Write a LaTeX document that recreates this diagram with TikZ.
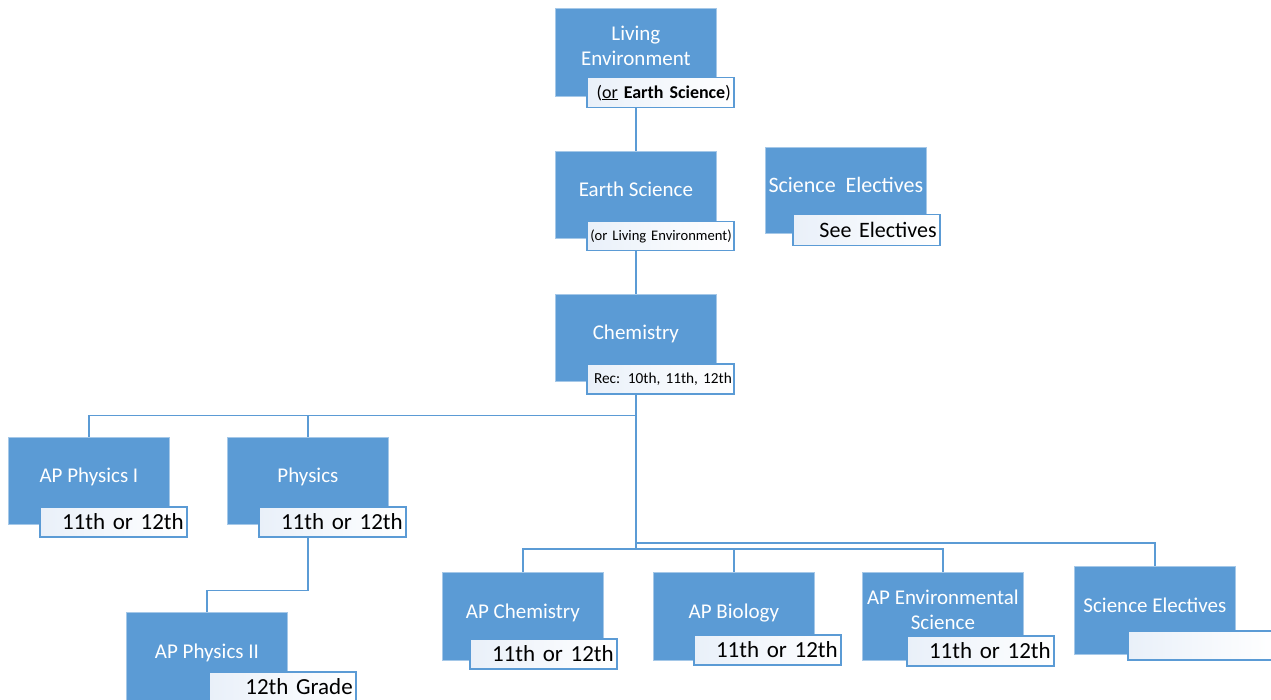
\documentclass[tikz,border=0pt]{standalone}
\usepackage{fontspec}
\setmainfont{Carlito}
\usepackage{tikz}

\definecolor{boxblue}{HTML}{5B9BD5}
\definecolor{tagblue}{HTML}{E9F0F9}

\begin{document}
\begin{tikzpicture}[
						x=1pt, y=-1pt,
						course/.style={draw=boxblue!55!white, line width=0.8pt, fill=boxblue, text=white,
								minimum width=161pt, minimum height=88pt, inner sep=2pt, align=center,
								text height=14pt, text depth=10.6pt,
								anchor=north west, font=\fontsize{21}{25}\selectfont},
						twoline/.style={text height=, text depth=14pt},
						grade/.style={draw=boxblue, line width=1.5pt, left color=tagblue, right color=white,
								text=black, text width=141pt, minimum height=30pt, inner xsep=3pt, inner ysep=0pt,
								align=right, anchor=north west, font=\fontsize{23}{26}\selectfont},
						link/.style={draw=boxblue, line width=1.6pt}
				]
    \useasboundingbox (0,0) rectangle (1271,700);

    % course boxes
    \node[course, twoline] (Living) at (555,8) {Living\\Environment};
    \node[course, minimum height=87pt] (Earth) at (555,151) {Earth Science};
    \node[course, minimum height=86pt] (ElectivesTop) at (765,147) {\fontsize{22}{25}\selectfont Science\ \ Electives};
    \node[course, minimum height=87pt] (Chemistry) at (555,294) {Chemistry};
    \node[course, minimum height=87pt] (APPhysicsI) at (8,437) {AP Physics I};
    \node[course, minimum height=87pt] (Physics) at (227,437) {Physics};
    \node[course] (APPhysicsII) at (126,612) {AP Physics II};
    \node[course] (APChemistry) at (442,572) {AP Chemistry};
    \node[course] (APBiology) at (653,572) {AP Biology};
    \node[course, twoline] (APEnvironmental) at (862,572) {AP Environmental\\Science};
    \node[course] (ElectivesLow) at (1074,566) {Science Electives};

    % grade tags
    \node[grade, font=\fontsize{18}{20}\selectfont] (LivingTag) at (586,77) {(\underline{or} \textbf{Earth Science})};
    \node[grade, minimum height=29pt, text width=143pt, inner xsep=2pt, font=\fontsize{14.6}{16}\selectfont] (EarthTag) at (586,221) {\mbox{(or Living Environment)}};
    \node[grade, minimum height=31pt, font=\fontsize{22}{25}\selectfont] (ElectivesTopTag) at (792,214) {See\hspace{0.35em}Electives};
    \node[grade, text width=143pt, inner xsep=2pt, font=\fontsize{15.3}{17}\selectfont] (ChemistryTag) at (586,363) {\mbox{Rec: 10th, 11th, 12th}};
    \node[grade] (APPhysicsITag) at (39,506) {11th or 12th};
    \node[grade] (PhysicsTag) at (258,506) {11th or 12th};
    \node[grade] (APPhysicsIITag) at (208,671) {12th Grade};
    \node[grade] (APChemistryTag) at (469,638) {11th or 12th};
    \node[grade] (APBiologyTag) at (693,634) {11th or 12th};
    \node[grade] (APEnvironmentalTag) at (906,635) {11th or 12th};
    \node[grade, minimum height=29pt] (ElectivesLowTag) at (1127,630) {};

    % connectors
    \draw[link] (LivingTag.south -| Living.south) -- (Earth.north);
    \draw[link] (EarthTag.south -| Earth.south) -- (Chemistry.north);
    \path (ChemistryTag.south -| Chemistry.south) ++(0,21) coordinate (Split);
    \coordinate (Hub) at (Chemistry.south |- 0,549);
    \coordinate (HubHigh) at (Chemistry.south |- 0,543);
    \draw[link] (ChemistryTag.south -| Chemistry.south) -- (Hub);
    \draw[link] (Split) -| (APPhysicsI.north);
    \draw[link] (Split) -| (Physics.north);
    \draw[link] (PhysicsTag.south -| Physics.south) -- ++(0,53) -| (APPhysicsII.north);
    \draw[link] (Hub) -| (APChemistry.north);
    \draw[link] (Hub) -| (APBiology.north);
    \draw[link] (Hub) -| (APEnvironmental.north);
    \draw[link] (HubHigh) -| (ElectivesLow.north);

  \end{tikzpicture}
\end{document}
